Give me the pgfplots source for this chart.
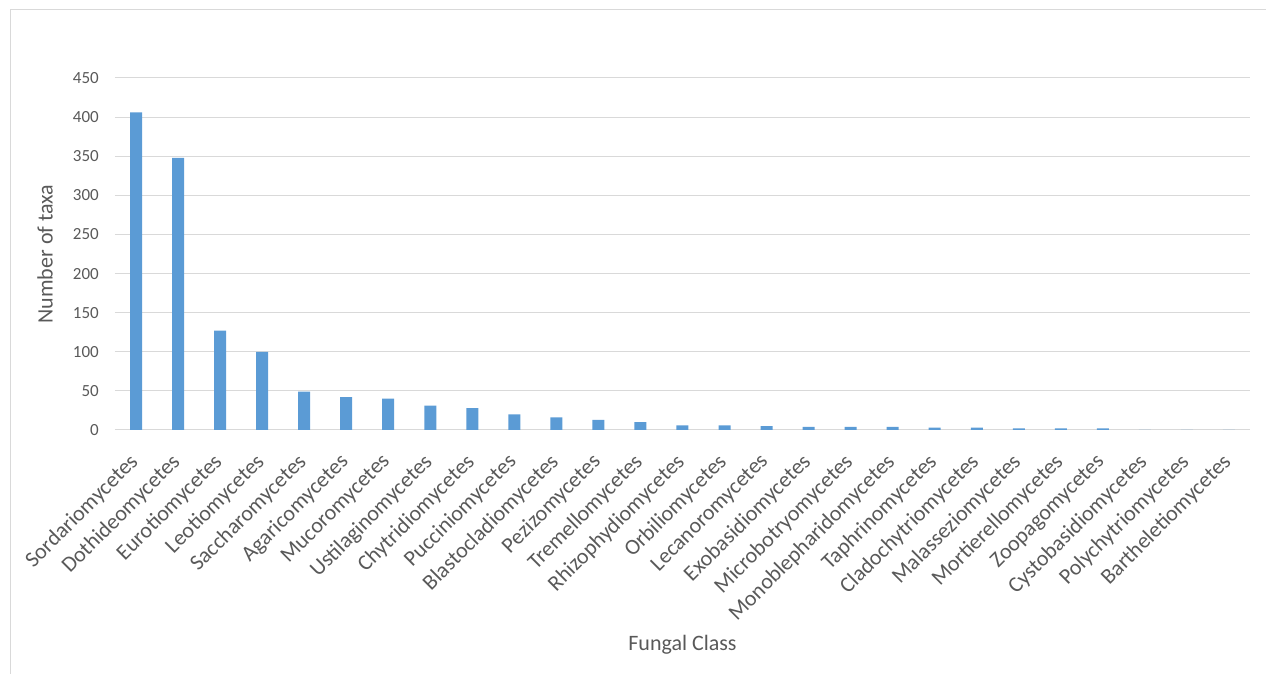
\documentclass[border=0pt]{standalone}
\usepackage{pgfplots}
\pgfplotsset{compat=1.18}
\usepackage{fontspec}
\setmainfont{Carlito}
\definecolor{barblue}{HTML}{5B9BD5}
\definecolor{gridgray}{HTML}{D9D9D9}
\definecolor{txtgray}{HTML}{595959}
\begin{document}
\begin{tikzpicture}[x=1pt,y=1pt]
\useasboundingbox (0,0) rectangle (1266,674);
\draw[gridgray, line width=1pt] (10,0) -- (10,664) -- (1266,664);
\begin{axis}[
  at={(115pt,244pt)}, anchor=south west,
  scale only axis, width=1135pt, height=352pt,
  xmin=-0.5, xmax=26.5, ymin=0, ymax=450,
  ytick={0,50,...,450},
  xtick={0,...,26},
  xticklabels={Sordariomycetes,Dothideomycetes,Eurotiomycetes,Leotiomycetes,Saccharomycetes,Agaricomycetes,Mucoromycetes,Ustilaginomycetes,Chytridiomycetes,Pucciniomycetes,Blastocladiomycetes,Pezizomycetes,Tremellomycetes,Rhizophydiomycetes,Orbiliomycetes,Lecanoromycetes,Exobasidiomycetes,Microbotryomycetes,Monoblepharidomycetes,Taphrinomycetes,Cladochytriomycetes,Malasseziomycetes,Mortierellomycetes,Zoopagomycetes,Cystobasidiomycetes,Polychytriomycetes,Bartheletiomycetes},
  axis line style={draw=none},
  axis x line*=bottom,
  x axis line style={draw=gridgray, line width=1pt},
  ymajorgrids, grid style={gridgray, line width=1pt},
  major tick length=0pt,
  tick style={draw=none},
  /pgf/number format/assume math mode=true,
  yticklabel style={font=\fontsize{17}{20}\selectfont, text=txtgray, anchor=east, inner sep=0pt, xshift=-16pt},
  xticklabel style={font=\fontsize{22}{26}\selectfont, text=txtgray, rotate=45, anchor=north east, inner sep=0pt, xshift=-21pt, yshift=-10pt},
  ylabel={Number of taxa},
  xlabel={Fungal Class},
  label style={font=\fontsize{22}{26}\selectfont, text=txtgray},
  ylabel style={at={(axis description cs:-0.0617,0.5)}, anchor=center, rotate=0},
  xlabel style={at={(axis description cs:0.5,0)}, yshift=-215pt, anchor=center},
  clip=false,
]
\addplot[ybar, bar width=12pt, fill=barblue, draw=none] coordinates {
(0,406) (1,348) (2,127) (3,100) (4,49) (5,42) (6,40) (7,31) (8,28) (9,20)
(10,16) (11,13) (12,10) (13,6) (14,6) (15,5) (16,4) (17,4) (18,4) (19,3)
(20,3) (21,2) (22,2) (23,2) (24,0) (25,0) (26,0)
};
\end{axis}
\end{tikzpicture}
\end{document}
